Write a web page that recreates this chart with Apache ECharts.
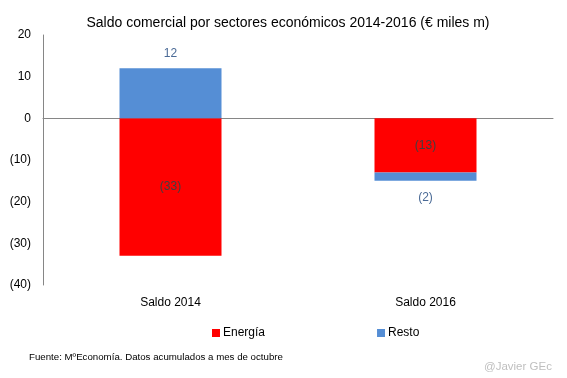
<!DOCTYPE html>
<html><head><meta charset="utf-8">
<script src="https://cdn.jsdelivr.net/npm/echarts@6/dist/echarts.min.js"></script>
<style>html,body{margin:0;padding:0;background:#fff}#c{width:567px;height:378px}</style>
</head><body><div id="c"></div>
<script>
var categories = ['Saldo 2014', 'Saldo 2016'];
var energia = [-33, -13];
var resto = [12, -2];
var yTicks = {min: -40, max: 20, interval: 10};

function paren(v){ return v < 0 ? '(' + Math.abs(v) + ')' : String(v); }
var FONT = 'Liberation Sans';
var chart = echarts.init(document.getElementById('c'));
chart.setOption({
  animation: false,
  textStyle: {fontFamily: FONT},
  title: [
    {text: 'Saldo comercial por sectores económicos 2014-2016 (€ miles m)', left: 283, textAlign: 'center', top: 11,
     textStyle: {fontSize: 14, fontWeight: 'normal', color: '#000', fontFamily: FONT}},
    {text: 'Fuente: MºEconomía. Datos acumulados a mes de octubre', left: 24, top: 347,
     textStyle: {fontSize: 9.7, fontWeight: 'normal', color: '#000', fontFamily: FONT}},
    {text: '@Javier GEc', left: 479, top: 356,
     textStyle: {fontSize: 11.5, fontWeight: 'normal', color: '#BFBFBF', fontFamily: FONT}}
  ],
  legend: {
    left: 207, top: 322, itemWidth: 8, itemHeight: 8, itemGap: 112,
    icon: 'rect',
    textStyle: {fontSize: 12, color: '#000', padding: [0,0,0,-2]},
    data: ['Energía', 'Resto']
  },
  grid: {left: 43, right: 14, top: 35, bottom: 93, containLabel: false},
  xAxis: {
    type: 'category', data: categories,
    axisLine: {onZero: true, lineStyle: {color: '#868686', width: 1}},
    axisTick: {show: false},
    axisLabel: {fontSize: 12, color: '#000', interval: 0, margin: 12},
    position: 'bottom'
  },
  yAxis: {
    type: 'value', min: yTicks.min, max: yTicks.max, interval: yTicks.interval,
    axisLine: {show: true, lineStyle: {color: '#868686'}},
    axisTick: {show: false},
    splitLine: {show: false},
    axisLabel: {fontSize: 12, color: '#000', margin: 12, formatter: paren}
  },
  series: [
    {name: 'Energía', type: 'bar', stack: 's', data: energia, barWidth: 102,
     itemStyle: {color: '#FF0000'},
     label: {show: true, position: 'inside', color: '#404040', fontSize: 12, textBorderWidth: 0, textBorderColor: 'transparent',
             formatter: function(p){return paren(p.value);}}},
    {name: 'Resto', type: 'bar', stack: 's', barWidth: 102,
     data: resto.map(function(v){ return {value: v, label: {position: v >= 0 ? 'top' : 'bottom', distance: v >= 0 ? 9 : 11}}; }),
     itemStyle: {color: '#558ED5'},
     label: {show: true, color: '#4A6A96', fontSize: 12, textBorderWidth: 0, formatter: function(p){return paren(p.value);}}}
  ]
});
</script></body></html>
